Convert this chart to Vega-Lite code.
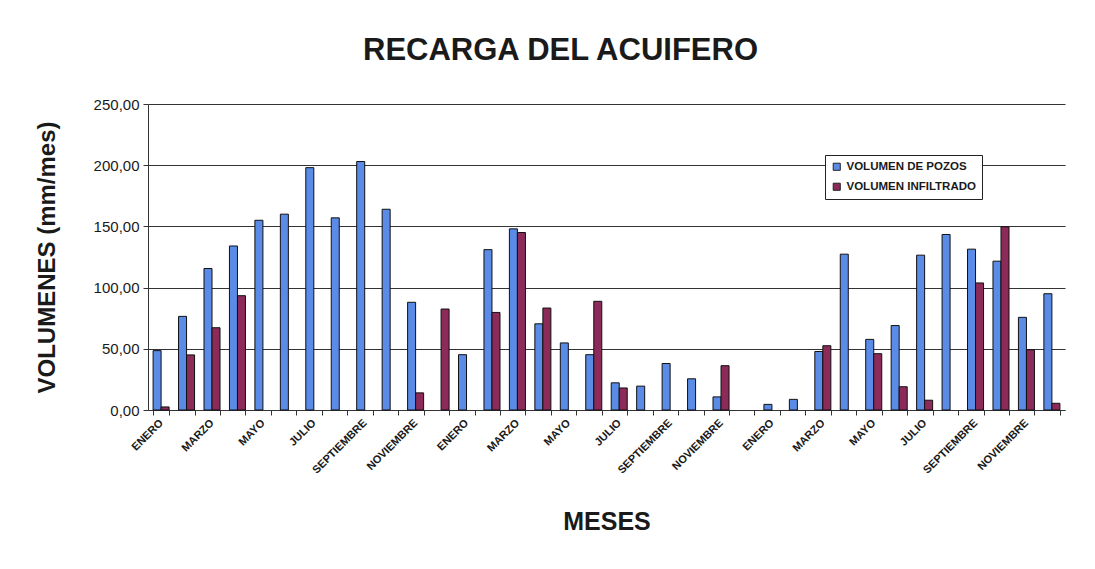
{
  "$schema": "https://vega.github.io/schema/vega-lite/v6.json",
  "autosize": "none",
  "width": 917,
  "height": 306,
  "padding": {"left": 148, "top": 104, "right": 30, "bottom": 159},
  "background": "white",
  "title": {
    "text": "RECARGA DEL ACUIFERO",
    "font": "Liberation Sans",
    "fontSize": 31,
    "fontWeight": "bold",
    "color": "#1a1a1a",
    "anchor": "middle",
    "frame": "group",
    "dx": -46,
    "offset": 30
  },
  "data": {
    "values": [
      {"n": 1, "serie": "VOLUMEN DE POZOS", "valor": 48.5}, {"n": 1, "serie": "VOLUMEN INFILTRADO", "valor": 2.5},
      {"n": 2, "serie": "VOLUMEN DE POZOS", "valor": 76.5}, {"n": 2, "serie": "VOLUMEN INFILTRADO", "valor": 45.0},
      {"n": 3, "serie": "VOLUMEN DE POZOS", "valor": 115.6}, {"n": 3, "serie": "VOLUMEN INFILTRADO", "valor": 67.2},
      {"n": 4, "serie": "VOLUMEN DE POZOS", "valor": 134.0}, {"n": 4, "serie": "VOLUMEN INFILTRADO", "valor": 93.4},
      {"n": 5, "serie": "VOLUMEN DE POZOS", "valor": 155.0},
      {"n": 6, "serie": "VOLUMEN DE POZOS", "valor": 160.0},
      {"n": 7, "serie": "VOLUMEN DE POZOS", "valor": 198.0},
      {"n": 8, "serie": "VOLUMEN DE POZOS", "valor": 157.0},
      {"n": 9, "serie": "VOLUMEN DE POZOS", "valor": 203.0},
      {"n": 10, "serie": "VOLUMEN DE POZOS", "valor": 164.0},
      {"n": 11, "serie": "VOLUMEN DE POZOS", "valor": 88.0}, {"n": 11, "serie": "VOLUMEN INFILTRADO", "valor": 14.0},
      {"n": 12, "serie": "VOLUMEN INFILTRADO", "valor": 82.5},
      {"n": 13, "serie": "VOLUMEN DE POZOS", "valor": 45.2},
      {"n": 14, "serie": "VOLUMEN DE POZOS", "valor": 131.0}, {"n": 14, "serie": "VOLUMEN INFILTRADO", "valor": 79.7},
      {"n": 15, "serie": "VOLUMEN DE POZOS", "valor": 148.0}, {"n": 15, "serie": "VOLUMEN INFILTRADO", "valor": 145.0},
      {"n": 16, "serie": "VOLUMEN DE POZOS", "valor": 70.4}, {"n": 16, "serie": "VOLUMEN INFILTRADO", "valor": 83.3},
      {"n": 17, "serie": "VOLUMEN DE POZOS", "valor": 54.8},
      {"n": 18, "serie": "VOLUMEN DE POZOS", "valor": 45.2}, {"n": 18, "serie": "VOLUMEN INFILTRADO", "valor": 88.8},
      {"n": 19, "serie": "VOLUMEN DE POZOS", "valor": 22.2}, {"n": 19, "serie": "VOLUMEN INFILTRADO", "valor": 18.0},
      {"n": 20, "serie": "VOLUMEN DE POZOS", "valor": 19.5},
      {"n": 21, "serie": "VOLUMEN DE POZOS", "valor": 38.0},
      {"n": 22, "serie": "VOLUMEN DE POZOS", "valor": 25.5},
      {"n": 23, "serie": "VOLUMEN DE POZOS", "valor": 10.7}, {"n": 23, "serie": "VOLUMEN INFILTRADO", "valor": 36.2},
      {"n": 24, "serie": "VOLUMEN DE POZOS", "valor": 0},
      {"n": 25, "serie": "VOLUMEN DE POZOS", "valor": 4.6},
      {"n": 26, "serie": "VOLUMEN DE POZOS", "valor": 8.7},
      {"n": 27, "serie": "VOLUMEN DE POZOS", "valor": 47.8}, {"n": 27, "serie": "VOLUMEN INFILTRADO", "valor": 52.5},
      {"n": 28, "serie": "VOLUMEN DE POZOS", "valor": 127.3},
      {"n": 29, "serie": "VOLUMEN DE POZOS", "valor": 57.7}, {"n": 29, "serie": "VOLUMEN INFILTRADO", "valor": 46.0},
      {"n": 30, "serie": "VOLUMEN DE POZOS", "valor": 69.0}, {"n": 30, "serie": "VOLUMEN INFILTRADO", "valor": 19.0},
      {"n": 31, "serie": "VOLUMEN DE POZOS", "valor": 126.5}, {"n": 31, "serie": "VOLUMEN INFILTRADO", "valor": 8.0},
      {"n": 32, "serie": "VOLUMEN DE POZOS", "valor": 143.4},
      {"n": 33, "serie": "VOLUMEN DE POZOS", "valor": 131.4}, {"n": 33, "serie": "VOLUMEN INFILTRADO", "valor": 103.8},
      {"n": 34, "serie": "VOLUMEN DE POZOS", "valor": 121.6}, {"n": 34, "serie": "VOLUMEN INFILTRADO", "valor": 149.7},
      {"n": 35, "serie": "VOLUMEN DE POZOS", "valor": 75.7}, {"n": 35, "serie": "VOLUMEN INFILTRADO", "valor": 49.2},
      {"n": 36, "serie": "VOLUMEN DE POZOS", "valor": 95.0}, {"n": 36, "serie": "VOLUMEN INFILTRADO", "valor": 5.5}
    ]
  },
  "transform": [{"filter": "datum.valor > 0"}],
  "mark": {"type": "bar", "stroke": "#111111", "strokeWidth": 1},
  "encoding": {
    "x": {
      "field": "n",
      "type": "ordinal",
      "scale": {"domain": [1,2,3,4,5,6,7,8,9,10,11,12,13,14,15,16,17,18,19,20,21,22,23,24,25,26,27,28,29,30,31,32,33,34,35,36], "paddingInner": 0.37, "paddingOuter": 0.2},
      "axis": {
        "title": "MESES",
        "titleFont": "Liberation Sans",
        "titleFontSize": 25,
        "titleFontWeight": "bold",
        "titleColor": "#1a1a1a",
        "titlePadding": 34,
        "labelExpr": "['ENERO','','MARZO','','MAYO','','JULIO','','SEPTIEMBRE','','NOVIEMBRE',''][(datum.value - 1) % 12]",
        "labelAngle": 315,
        "labelAlign": "right",
        "labelBaseline": "middle",
        "labelFont": "Liberation Sans",
        "labelFontSize": 11,
        "labelFontWeight": "bold",
        "labelColor": "#1a1a1a",
        "labelPadding": 6,
        "labelOverlap": false,
        "tickBand": "extent",
        "tickColor": "#333333",
        "tickSize": 5,
        "domainColor": "#333333",
        "grid": false
      }
    },
    "xOffset": {"field": "serie", "type": "nominal", "scale": {"domain": ["VOLUMEN DE POZOS", "VOLUMEN INFILTRADO"]}},
    "y": {
      "field": "valor",
      "type": "quantitative",
      "scale": {"domain": [0, 250]},
      "axis": {
        "values": [0, 50, 100, 150, 200, 250],
        "labelExpr": "replace(format(datum.value, '.2f'), '.', ',')",
        "title": "VOLUMENES (mm/mes)",
        "titleFont": "Liberation Sans",
        "titleFontSize": 24,
        "titleFontWeight": "bold",
        "titleColor": "#1a1a1a",
        "titlePadding": 34,
        "labelFont": "Liberation Sans",
        "labelFontSize": 15,
        "labelColor": "#1a1a1a",
        "labelPadding": 4,
        "tickSize": 5,
        "tickColor": "#333333",
        "domainColor": "#333333",
        "gridColor": "#333333",
        "gridWidth": 1
      }
    },
    "color": {
      "field": "serie",
      "type": "nominal",
      "scale": {"domain": ["VOLUMEN DE POZOS", "VOLUMEN INFILTRADO"], "range": ["#5a8be6", "#8c2b59"]},
      "legend": {
        "title": null,
        "orient": "none",
        "legendX": 677,
        "legendY": 51,
        "fillColor": "white",
        "strokeColor": "#222222",
        "padding": 6,
        "symbolType": "square",
        "symbolSize": 50,
        "symbolStrokeColor": "#222222",
        "symbolStrokeWidth": 1,
        "labelFont": "Liberation Sans",
        "labelFontSize": 11.5,
        "labelFontWeight": "bold",
        "labelColor": "#1a1a1a",
        "rowPadding": 7
      }
    }
  },
  "config": {
    "view": {"stroke": null},
    "axisX": {"labelAngle": 315}
  }
}
